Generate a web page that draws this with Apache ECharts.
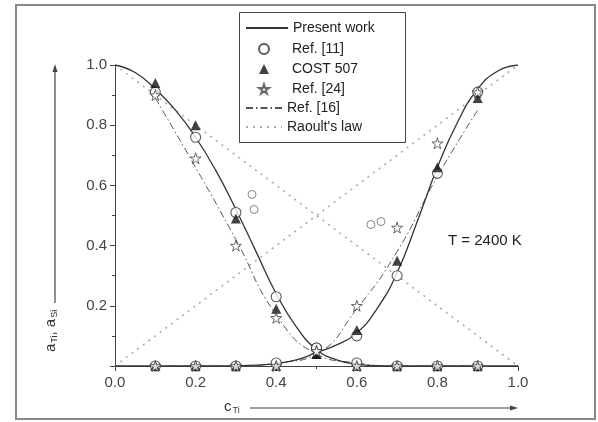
<!DOCTYPE html>
<html><head><meta charset="utf-8">
<script src="https://cdn.jsdelivr.net/npm/echarts@6/dist/echarts.min.js"></script>
<style>html,body{margin:0;padding:0;background:#fff}#c{width:598px;height:422px}</style>
</head><body><div id="c"></div>
<script>
// ---- data ----
const xCurve = [0,0.05,0.1,0.15,0.2,0.25,0.3,0.35,0.4,0.45,0.5,0.55,0.6,0.65,0.7,0.75,0.8,0.85,0.9,0.95,1.0];
const presentDec = [1.00,0.975,0.92,0.85,0.76,0.65,0.52,0.38,0.24,0.13,0.055,0.02,0.006,0.001,0,0,0,0,0,0,0];
const presentInc = [0,0,0,0,0,0,0.001,0.003,0.008,0.02,0.045,0.07,0.11,0.19,0.31,0.48,0.66,0.81,0.92,0.98,1.0];
const xData = [0.1,0.2,0.3,0.4,0.5,0.6,0.7,0.8,0.9];
const ref11Dec = [0.91,0.76,0.51,0.23,0.06,0.01,0,0,0];
const ref11Inc = [0,0,0,0.01,0.06,0.10,0.30,0.64,0.91];
const cost507Dec = [0.94,0.80,0.49,0.19,0.04,0,0,0,0];
const cost507Inc = [0,0,0,0,0.04,0.12,0.35,0.66,0.89];
const ref24Dec = [0.90,0.69,0.40,0.16,0.05,0,0,0,0];
const ref24Inc = [0,0,0,0,0.05,0.20,0.46,0.74,0.91];
const ref24ExtraX = [0.34,0.345,0.635,0.66];
const ref24ExtraY = [0.57,0.52,0.47,0.48];
const ref16Dec = [0.89,0.66,0.42,0.17,0.04,0.01,0,0,0];
const ref16Inc = [0,0,0,0.01,0.04,0.19,0.38,0.63,0.85];
const raoultX = [0,1];
const raoultDec = [1,0];
const raoultInc = [0,1];
const yTicks = ['', '0.2','0.4','0.6','0.8','1.0'];

const zip = (xs, ys) => xs.map((x,i)=>[x, ys[i]]);
const STAR = 'path://M50,0 L61,35 L98,35 L68,57 L79,91 L50,70 L21,91 L32,57 L2,35 L39,35 Z';
const FONT = '"Liberation Sans", Arial, sans-serif';

const presentStyle = {color:'#333', width:1.3, type:'solid'};
const ref16Style = {color:'#555', width:1, type:[7,3,1.5,3]};
const raoultStyle = {color:'#aaa', width:1.6, type:[2,5]};

const lineSeries = (name, data, style) => ({
  name, type:'line', data, smooth: true, showSymbol:false, symbol:'none',
  lineStyle: style, itemStyle:{color: style.color}, z:2, silent:true
});
const scatter = (name, data, symbol, size, itemStyle, z) => ({
  name, type:'scatter', data, symbol, symbolSize:size, itemStyle, z
});
const hideSym = {color:'rgba(0,0,0,0)', borderWidth:0, opacity:0};
const legTxt = {fontSize:14, color:'#222', fontFamily:FONT, lineHeight:14};

const chart = echarts.init(document.getElementById('c'));
chart.setOption({
  animation:false,
  textStyle:{fontFamily:FONT},
  grid:{left:115, top:65, width:403, height:301, containLabel:false},
  xAxis:{type:'value', min:0, max:1, interval:0.2,
    axisLine:{show:true, onZero:false, lineStyle:{color:'#444', width:1}},
    axisTick:{show:true, inside:false, length:5, lineStyle:{color:'#444'}},
    minorTick:{show:true, splitNumber:2, length:3, lineStyle:{color:'#444'}},
    splitLine:{show:false},
    axisLabel:{color:'#444', fontSize:15, margin:9, fontFamily:FONT, formatter:v=>v.toFixed(1)}
  },
  yAxis:{type:'value', min:0, max:1, interval:0.2,
    axisLine:{show:true, lineStyle:{color:'#444', width:1}},
    axisTick:{show:true, inside:false, length:5, lineStyle:{color:'#444'}},
    minorTick:{show:true, splitNumber:2, length:3, lineStyle:{color:'#444'}},
    splitLine:{show:false},
    axisLabel:{color:'#444', fontSize:15, margin:8, fontFamily:FONT,
      formatter:(v)=>yTicks[Math.round(v*5)]}
  },
  legend:[
    {orient:'vertical', left:245, top:21, itemWidth:42, itemHeight:14, itemGap:6, padding:0,
     textStyle:legTxt, selectedMode:false, z:11,
     data:[{name:'Present work', itemStyle:hideSym}]},
    {orient:'vertical', left:258, top:42, itemWidth:10, itemHeight:10, itemGap:6, padding:0,
     textStyle:Object.assign({}, legTxt, {padding:[0,0,0,18]}), selectedMode:false, z:11,
     data:[{name:'Ref. [11]'},{name:'COST 507'},{name:'Ref. [24]'}]},
    {orient:'vertical', left:245, top:101, itemWidth:36, itemHeight:14, itemGap:5, padding:0,
     textStyle:legTxt, selectedMode:false, z:11,
     data:[{name:'Ref. [16]', itemStyle:hideSym},{name:"Raoult's law", itemStyle:hideSym}]}
  ],
  series:[
    lineSeries("Raoult's law", zip(raoultX, raoultDec), raoultStyle),
    lineSeries("Raoult's law", zip(raoultX, raoultInc), raoultStyle),
    lineSeries('Ref. [16]', zip(xData, ref16Dec), ref16Style),
    lineSeries('Ref. [16]', zip(xData, ref16Inc), ref16Style),
    lineSeries('Present work', zip(xCurve, presentDec), presentStyle),
    lineSeries('Present work', zip(xCurve, presentInc), presentStyle),
    scatter('Ref. [11]', zip(xData, ref11Dec), 'circle', 10, {color:'#fff', borderColor:'#333', borderWidth:1.1}, 3),
    scatter('Ref. [11]', zip(xData, ref11Inc), 'circle', 10, {color:'#fff', borderColor:'#333', borderWidth:1.1}, 3),
    scatter('COST 507', zip(xData, cost507Dec), 'triangle', 10, {color:'#111'}, 4),
    scatter('COST 507', zip(xData, cost507Inc), 'triangle', 10, {color:'#111'}, 4),
    scatter('Ref. [24]', zip(xData, ref24Dec), STAR, 11, {color:'#fff', borderColor:'#444', borderWidth:1}, 5),
    scatter('Ref. [24]', zip(xData, ref24Inc), STAR, 11, {color:'#fff', borderColor:'#444', borderWidth:1}, 5),
    scatter('Ref. [24] extra', zip(ref24ExtraX, ref24ExtraY), 'circle', 8, {color:'#fff', borderColor:'#666', borderWidth:1}, 5)
  ],
  graphic:[
    {type:'rect', shape:{x:16, y:5, width:579, height:414}, style:{fill:null, stroke:'#888', lineWidth:2}, silent:true},
    {type:'rect', shape:{x:239.5, y:12.5, width:166, height:130}, style:{fill:'#fff', stroke:'#444', lineWidth:1}, z:8, silent:true},
    {type:'line', shape:{x1:55, y1:303, x2:55, y2:70}, style:{stroke:'#444', lineWidth:1.2}, silent:true},
    {type:'polygon', shape:{points:[[55,64],[52.5,72],[57.5,72]]}, style:{fill:'#444'}, silent:true},
    {type:'line', shape:{x1:250, y1:408, x2:512, y2:408}, style:{stroke:'#444', lineWidth:1.2}, silent:true},
    {type:'polygon', shape:{points:[[518,408],[510,405.5],[510,410.5]]}, style:{fill:'#444'}, silent:true},
    {type:'text', x:224, y:398, silent:true,
      style:{text:'c{s|Ti}', fill:'#333', font:'15px '+FONT,
        rich:{s:{fontSize:9, fill:'#333', padding:[8,0,0,1], fontFamily:FONT}}}},
    {type:'text', x:42, y:352, rotation:Math.PI/2, silent:true,
      style:{text:'a{s|Ti}, a{s|Si}', fill:'#333', font:'15px '+FONT,
        rich:{s:{fontSize:9, fill:'#333', padding:[8,0,0,1], fontFamily:FONT}}}},
    {type:'text', x:448, y:233, silent:true,
      style:{text:'T = 2400 K', fill:'#222', font:'15px '+FONT}}
  ]
});
</script></body></html>
